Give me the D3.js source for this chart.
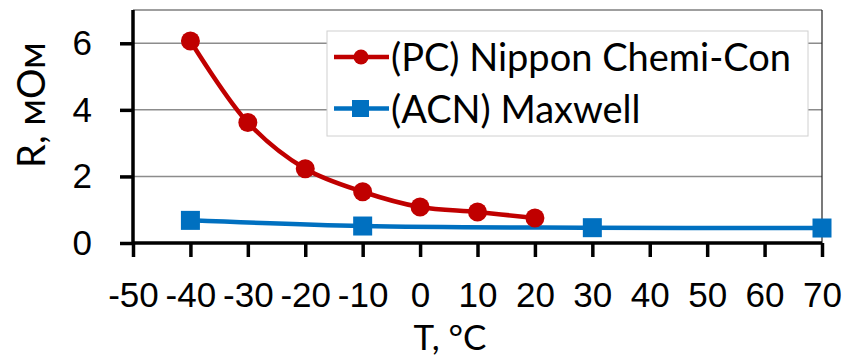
<!DOCTYPE html>
<html>
<head>
<meta charset="utf-8">
<script src="https://cdn.jsdelivr.net/npm/d3@7"></script>
<style>
  body { margin: 0; background: #fff; }
  svg { display: block; font-family: Lato, "Open Sans", sans-serif; }
</style>
</head>
<body>
<svg id="chart" width="846" height="358"></svg>
<script>
// Data
const pcTemps = [-40, -30, -20, -10, 0, 10, 20];
const pcValues = [6.07, 3.62, 2.23, 1.54, 1.08, 0.93, 0.75];
const acnTemps = [-40, -10, 30, 70];
const acnValues = [0.68, 0.51, 0.46, 0.45];
const xTicks = [-50, -40, -30, -20, -10, 0, 10, 20, 30, 40, 50, 60, 70];
const yTicks = [0, 2, 4, 6];
const seriesNames = ['(PC) Nippon Chemi-Con', '(ACN) Maxwell'];

const svg = d3.select('#chart');
const plotLeft = 133, plotRight = 822, plotTop = 10, plotBottom = 243;

const x = d3.scaleLinear().domain([-50, 70]).range([plotLeft, plotRight]);
const y = d3.scaleLinear().domain([0, 7]).range([plotBottom, plotTop]);

// Gridlines
svg.append('g')
  .selectAll('line')
  .data(yTicks.filter(d => d > 0))
  .enter().append('line')
  .attr('x1', plotLeft).attr('x2', plotRight)
  .attr('y1', d => y(d)).attr('y2', d => y(d))
  .attr('stroke', '#8c8c8c').attr('stroke-width', 1.5);

// Plot border top/right
svg.append('line').attr('x1', plotLeft).attr('x2', plotRight).attr('y1', plotTop).attr('y2', plotTop)
  .attr('stroke', '#404040').attr('stroke-width', 1.2);
svg.append('line').attr('x1', plotRight).attr('x2', plotRight).attr('y1', plotTop).attr('y2', plotBottom)
  .attr('stroke', '#202020').attr('stroke-width', 1.2);

// Axes
const xAxis = svg.append('g')
  .attr('transform', `translate(0,${plotBottom})`)
  .call(d3.axisBottom(x).tickValues(xTicks).tickSize(14).tickFormat(d3.format('d')));
const yAxis = svg.append('g')
  .attr('transform', `translate(${plotLeft},0)`)
  .call(d3.axisLeft(y).tickValues(yTicks).tickSize(13).tickPadding(28).tickFormat(d3.format('d')));

[xAxis, yAxis].forEach(a => {
  a.select('.domain').attr('stroke', '#000').attr('stroke-width', 3.5);
  a.selectAll('.tick line').attr('stroke', '#000').attr('stroke-width', 3.5);
  a.selectAll('.tick text').attr('fill', '#000').style('font-size', '35px');
});
xAxis.select('.domain').attr('d', `M${plotLeft},0H${plotRight}`);
yAxis.select('.domain').attr('d', `M0,${plotBottom}V${plotTop}`);
xAxis.selectAll('.tick text').text(d => d < 0 ? '-' + Math.abs(d) : d)
  .attr('y', 64).attr('dy', '0');

// Lines
const line = d3.line().curve(d3.curveCatmullRom.alpha(0.5))
  .x(d => x(d[0])).y(d => y(d[1]));

const pcData = pcTemps.map((t, i) => [t, pcValues[i]]);
const acnData = acnTemps.map((t, i) => [t, acnValues[i]]);

svg.append('path').datum(acnData).attr('d', line)
  .attr('fill', 'none').attr('stroke', '#0070C0').attr('stroke-width', 4.5);
svg.append('path').datum(pcData).attr('d', line)
  .attr('fill', 'none').attr('stroke', '#C00000').attr('stroke-width', 4.5);

svg.append('g').selectAll('rect').data(acnData).enter().append('rect')
  .attr('x', d => x(d[0]) - 9.5).attr('y', d => y(d[1]) - 9.5)
  .attr('width', 19).attr('height', 19).attr('fill', '#0070C0');
svg.append('g').selectAll('circle').data(pcData).enter().append('circle')
  .attr('cx', d => x(d[0])).attr('cy', d => y(d[1])).attr('r', 9.5)
  .attr('fill', '#C00000');

// Legend
const legend = svg.append('g');
legend.append('rect').attr('x', 327).attr('y', 31).attr('width', 481).attr('height', 105)
  .attr('fill', '#fff').attr('stroke', '#d0d0d0').attr('stroke-width', 1);
const colors = ['#C00000', '#0070C0'];
seriesNames.forEach((name, i) => {
  const ly = 57 + i * 51.5;
  legend.append('line').attr('x1', 334).attr('x2', 389).attr('y1', ly).attr('y2', ly)
    .attr('stroke', colors[i]).attr('stroke-width', 4.5);
  if (i === 0) {
    legend.append('circle').attr('cx', 361).attr('cy', ly).attr('r', 7.5).attr('fill', colors[i]);
  } else {
    legend.append('rect').attr('x', 352).attr('y', ly - 8.5).attr('width', 17).attr('height', 17).attr('fill', colors[i]);
  }
  legend.append('text').attr('x', 391).attr('y', ly + 14)
    .style('font-size', '38px').attr('fill', '#000').text(name);
});

// Axis titles
svg.append('text')
  .attr('transform', `translate(45,105) rotate(-90)`)
  .attr('text-anchor', 'middle')
  .style('font-size', '38px').attr('fill', '#000')
  .text('R, мОм');
svg.append('text')
  .attr('x', 450).attr('y', 350)
  .attr('text-anchor', 'middle')
  .style('font-size', '35px').attr('fill', '#000')
  .text('T, °C');
</script>
</body>
</html>
